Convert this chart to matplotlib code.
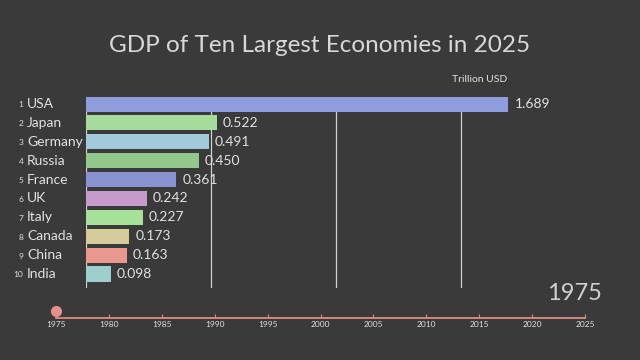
import matplotlib
matplotlib.use('Agg')
import matplotlib.pyplot as plt
import matplotlib.transforms as mtransforms

plt.rcParams['font.family'] = ['Lato', 'DejaVu Sans']

# Data (year 1975 frame)
countries = ['USA', 'Japan', 'Germany', 'Russia', 'France',
             'UK', 'Italy', 'Canada', 'China', 'India']
gdp = [1.689, 0.522, 0.491, 0.450, 0.361, 0.242, 0.227, 0.173, 0.163, 0.098]
bar_colors = ['#8f9ddd', '#a5dc9c', '#a3cadb', '#94c78d', '#8a93d2',
              '#c69bcc', '#a5e196', '#d4cb9a', '#e99890', '#9dcfcd']
grid_values = [0.5, 1.0, 1.5]
years = list(range(1975, 2030, 5))
current_year = 1975

bg = '#3a3a3a'
fg = '#e2e2e2'

fig = plt.figure(figsize=(6.4, 3.6), dpi=100, facecolor=bg)

# main bar axes
ax = fig.add_axes([86 / 640, 1 - 288 / 360, 475 / 640, 191 / 360])
ax.set_facecolor(bg)
ypos = list(range(len(countries)))
ax.barh(ypos, gdp, height=0.8, color=bar_colors, zorder=2)
ax.set_xlim(0, 1.9)
ax.set_ylim(9.74, -0.37)
for g in grid_values + [0]:
    ax.axvline(g, color='#cfcfcf', lw=0.9, zorder=1)
for s in ax.spines.values():
    s.set_visible(False)
ax.set_xticks([])
ax.set_yticks([])

for i, (c, v) in enumerate(zip(countries, gdp)):
    ax.text(v + 0.025, i, f'{v:.3f}', color=fg, fontsize=10, va='center', ha='left')
    ax.text(-0.236, i, c, color=fg, fontsize=10, va='center', ha='left')
    ax.text(-0.25, i + 0.05, str(i + 1), color=fg, fontsize=6, va='center', ha='right')

fig.text(0.5, 1 - 46 / 360, 'GDP of Ten Largest Economies in 2025', color='#d8d8d8',
         fontsize=17.5, ha='center', va='center')
fig.text(480 / 640, 1 - 80 / 360, 'Trillion USD', color=fg, fontsize=7.5,
         ha='center', va='center')
fig.text(574 / 640, 1 - 293 / 360, str(current_year), color='#d0d0d0', fontsize=17,
         ha='center', va='center')

# timeline axes
tl = fig.add_axes([56 / 640, 1 - 318 / 360, 529 / 640, 0.0001])
tl.set_facecolor('none')
tl.set_xlim(years[0], years[-1])
tl.set_ylim(0, 1)
for s in ['left', 'right', 'top']:
    tl.spines[s].set_visible(False)
tl.spines['bottom'].set_color('#e08a86')
tl.spines['bottom'].set_linewidth(1.3)
tl.set_yticks([])
tl.set_xticks(years)
tl.set_xticklabels([str(y) for y in years])
tl.tick_params(axis='x', direction='in', length=3, width=0.8, color='#e08a86',
               labelcolor=fg, labelsize=6, pad=2)
dot_offset = mtransforms.ScaledTranslation(0, 7 / 100, fig.dpi_scale_trans)
tl.plot([current_year], [0], marker='o', markersize=7, color='#e8908c',
        transform=tl.transData + dot_offset, clip_on=False)

fig.savefig('out.png', dpi=100, facecolor=bg)
